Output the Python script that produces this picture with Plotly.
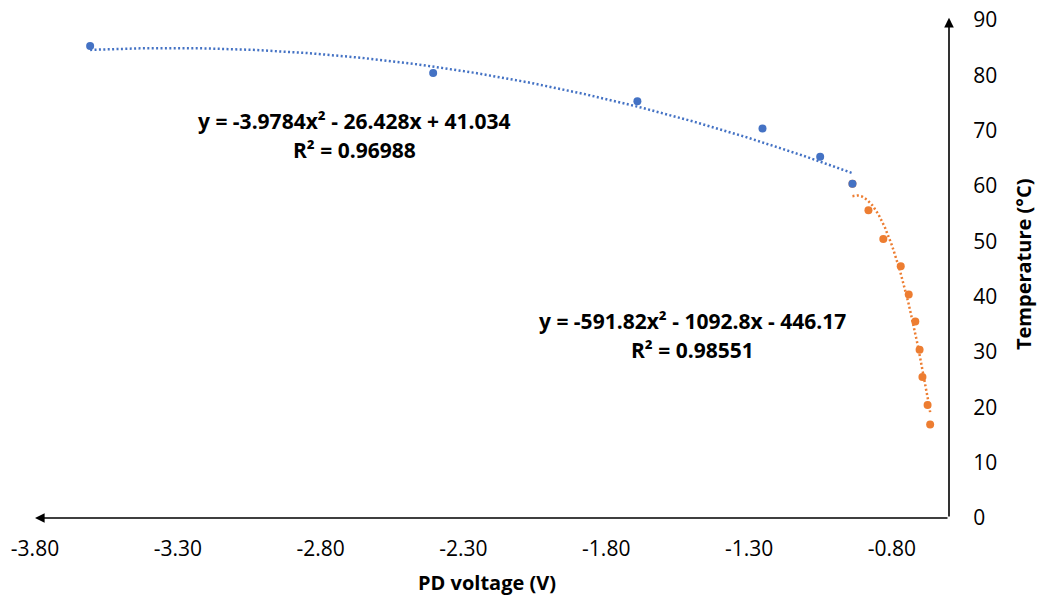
import numpy as np
import plotly.graph_objects as go

# Photodiode voltage (V) vs temperature (°C), two regimes
blue_v = [-3.607, -2.406, -1.691, -1.253, -1.051, -0.938]
blue_t = [85.3, 80.4, 75.3, 70.4, 65.3, 60.4]

orange_v = [-0.938, -0.882, -0.830, -0.769, -0.741, -0.718, -0.703, -0.693, -0.675, -0.666]
orange_t = [60.4, 55.6, 50.4, 45.5, 40.4, 35.5, 30.4, 25.5, 20.4, 16.9]

# Second-order polynomial trendlines (highest power first)
blue_coef = [-3.9784, -26.428, 41.034]
orange_coef = [-591.82, -1092.8, -446.17]
blue_eq = ["y = -3.9784x² - 26.428x + 41.034", "R² = 0.96988"]
orange_eq = ["y = -591.82x² - 1092.8x - 446.17", "R² = 0.98551"]

x_ticks = [-3.80, -3.30, -2.80, -2.30, -1.80, -1.30, -0.80]
x_tick_text = ["-3.80", "-3.30", "-2.80", "-2.30", "-1.80", "-1.30", "-0.80"]
y_ticks = [0, 10, 20, 30, 40, 50, 60, 70, 80, 90]

BLUE = "#4472C4"
ORANGE = "#ED7D31"
FONT = "Open Sans"

fig = go.Figure()


def trend(xs, coef):
    xx = np.linspace(min(xs), max(xs), 200)
    return xx, np.polyval(coef, xx)


bx, by = trend(blue_v, blue_coef)
ox, oy = trend(orange_v, orange_coef)

fig.add_trace(go.Scatter(x=ox, y=oy, mode="lines", hoverinfo="skip",
                         line=dict(color=ORANGE, width=2.5, dash="2px,2.4px")))
fig.add_trace(go.Scatter(x=bx, y=by, mode="lines", hoverinfo="skip",
                         line=dict(color=BLUE, width=2.5, dash="2px,2.4px")))
fig.add_trace(go.Scatter(x=orange_v, y=orange_t, mode="markers",
                         marker=dict(color=ORANGE, size=8)))
fig.add_trace(go.Scatter(x=blue_v, y=blue_t, mode="markers",
                         marker=dict(color=BLUE, size=8)))

annotations = []
# axis lines with arrowheads
annotations.append(dict(x=-3.80, y=0, ax=-0.60, ay=0, xref="x", yref="y",
                        axref="x", ayref="y", text="", showarrow=True,
                        arrowhead=2, arrowsize=1.2, arrowwidth=1.6, arrowcolor="black"))
annotations.append(dict(x=-0.60, y=90.4, ax=-0.60, ay=0, xref="x", yref="y",
                        axref="x", ayref="y", text="", showarrow=True,
                        arrowhead=2, arrowsize=1.2, arrowwidth=1.6, arrowcolor="black"))

eq_font = dict(family=FONT, size=21, color="black")
for (cx, y1, y2), lines in [((-2.681, 71.76, 66.5), blue_eq),
                            ((-1.498, 35.6, 30.3), orange_eq)]:
    annotations.append(dict(x=cx, y=y1, xref="x", yref="y", text="<b>%s</b>" % lines[0],
                            showarrow=False, font=eq_font))
    annotations.append(dict(x=cx, y=y2, xref="x", yref="y", text="<b>%s</b>" % lines[1],
                            showarrow=False, font=eq_font))

annotations.append(dict(x=0.4945, y=-0.1286, xref="paper", yref="paper",
                        xanchor="center", yanchor="middle",
                        text="<b>PD voltage (V)</b>", showarrow=False,
                        font=dict(family=FONT, size=20, color="black")))
annotations.append(dict(x=1.081, y=0.508, xref="paper", yref="paper",
                        xanchor="center", yanchor="middle",
                        text="<b>Temperature (°C)</b>", showarrow=False, textangle=-90,
                        font=dict(family=FONT, size=20, color="black")))

fig.update_layout(
    width=1040, height=595,
    margin=dict(l=35, r=91, t=20, b=77),
    paper_bgcolor="white", plot_bgcolor="white",
    showlegend=False,
    font=dict(family=FONT, size=21, color="black"),
    annotations=annotations,
    xaxis=dict(range=[-3.80, -0.60], tickvals=x_ticks, ticktext=x_tick_text,
               showgrid=False, zeroline=False, showline=False, ticks="outside",
               ticklen=12, tickcolor="rgba(0,0,0,0)", automargin=False,
               tickfont=dict(family=FONT, size=21)),
    yaxis=dict(range=[0, 90], tickvals=y_ticks, side="right",
               showgrid=False, zeroline=False, showline=False, ticks="outside",
               ticklen=19, tickcolor="rgba(0,0,0,0)", automargin=False,
               tickfont=dict(family=FONT, size=21)),
)

fig.write_html("out.html")
